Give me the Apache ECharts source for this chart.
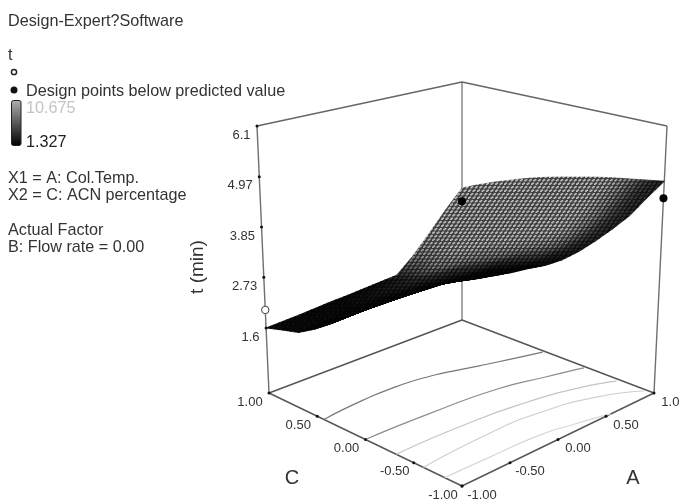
<!DOCTYPE html>
<html>
<head>
<meta charset="utf-8">
<style>
  html, body { margin: 0; padding: 0; background: #fff; }
  #main { width: 683px; height: 501px; }
</style>
<script src="https://cdn.jsdelivr.net/npm/echarts@6/dist/echarts.min.js"></script>
</head>
<body>
<div id="main"></div>
<script>
// factor levels of the surface mesh
const aLevels = [-1, -0.8333, -0.6667, -0.5, -0.3333, -0.1667, 0, 0.1667, 0.3333, 0.5, 0.6667, 0.8333, 1];
const cLevels = [1, 0.8333, 0.6667, 0.5, 0.3333, 0.1667, 0, -0.1667, -0.3333, -0.5, -0.6667, -0.8333, -1];
// t (min), one row per C level
const tRows = [
  [1.60, 1.62, 1.64, 1.67, 1.70, 1.72, 1.75, 1.78, 1.81, 2.14, 2.57, 3.02, 3.45],
  [1.71, 1.74, 1.77, 1.80, 1.84, 1.87, 1.92, 1.96, 2.01, 2.34, 2.77, 3.22, 3.65],
  [1.81, 1.84, 1.88, 1.93, 1.97, 2.01, 2.07, 2.13, 2.20, 2.53, 2.95, 3.40, 3.83],
  [2.03, 2.06, 2.09, 2.13, 2.18, 2.21, 2.27, 2.33, 2.42, 2.73, 3.13, 3.57, 3.99],
  [2.29, 2.31, 2.33, 2.37, 2.41, 2.43, 2.48, 2.55, 2.63, 2.93, 3.31, 3.74, 4.14],
  [2.58, 2.59, 2.60, 2.62, 2.65, 2.66, 2.70, 2.77, 2.85, 3.13, 3.48, 3.89, 4.27],
  [2.86, 2.85, 2.85, 2.86, 2.87, 2.87, 2.91, 2.97, 3.05, 3.30, 3.63, 4.02, 4.38],
  [3.14, 3.12, 3.10, 3.09, 3.10, 3.08, 3.11, 3.16, 3.25, 3.47, 3.77, 4.14, 4.48],
  [3.42, 3.38, 3.35, 3.33, 3.32, 3.29, 3.31, 3.36, 3.44, 3.64, 3.91, 4.26, 4.58],
  [3.66, 3.62, 3.58, 3.55, 3.53, 3.49, 3.50, 3.54, 3.63, 3.80, 4.04, 4.36, 4.66],
  [3.86, 3.81, 3.76, 3.72, 3.69, 3.65, 3.65, 3.69, 3.78, 3.95, 4.15, 4.45, 4.73],
  [4.06, 3.99, 3.94, 3.89, 3.86, 3.80, 3.80, 3.84, 3.94, 4.08, 4.26, 4.55, 4.80],
  [4.22, 4.15, 4.09, 4.03, 3.99, 3.93, 3.92, 3.97, 4.07, 4.20, 4.36, 4.62, 4.87]
];
const zTicks = ['1.6', '2.73', '3.85', '4.97', '6.1'];
const floorTicks = ['-1.00', '-0.50', '0.00', '0.50', '1.00'];
// design points as [A, C, t]
const pointsAbove = [[-1, 1, 2.0]];
const pointsBelow = [[1, 1, 3.12], [1, -1, 4.49]];
// contours on the floor as [A, C]
const contours = [
  [[-1, 0.43], [-0.56, 0.47], [-0.20, 0.47], [0.10, 0.43], [0.36, 0.35], [0.62, 0.26], [0.98, 0.14]],
  [[-1, 0], [-0.35, -0.02], [0.30, -0.08], [0.68, -0.19], [0.98, -0.29]],
  [[-1, -0.32], [-0.32, -0.33], [0.30, -0.40], [0.71, -0.51], [0.97, -0.64]],
  [[-1, -0.60], [-0.27, -0.56], [0.22, -0.59], [0.68, -0.72], [0.98, -0.92]],
  [[-1, -0.82], [-0.54, -0.83], [-0.04, -0.85], [0.24, -0.91], [0.55, -1]]
];
const contourColors = ['#777777', '#8c8c8c', '#c4c4c4', '#cfcfcf', '#d8d8d8'];
const legendText = [
  ['Design-Expert?Software', 8, 20, '#333'],
  ['t', 8, 54, '#333'],
  ['Design points below predicted value', 26, 90, '#333'],
  ['10.675', 26, 107, '#c4c4c4'],
  ['1.327', 26, 141, '#222'],
  ['X1 = A: Col.Temp.', 8, 177, '#333'],
  ['X2 = C: ACN percentage', 8, 194, '#333'],
  ['Actual Factor', 8, 229, '#333'],
  ['B: Flow rate = 0.00', 8, 246, '#333']
];

const FONT = '"Liberation Sans", Arial, sans-serif';
const zLow = 0.15, zHigh = 6.1;

// the view of the box: corners as [x, y] on the page, [left, back, front, right]
const floorCorners = [[269, 393], [462, 320], [462, 486], [654, 393]];
const topCorners = [[257, 126], [462, 82], [462, 186], [667, 126]];

function blend(c, u, v, k) {
  return (1 - u) * (1 - v) * c[0][k] + u * (1 - v) * c[1][k] + (1 - u) * v * c[2][k] + u * v * c[3][k];
}
function project(a, c, z) {
  const u = (a + 1) / 2, v = (1 - c) / 2, t = (z - zLow) / (zHigh - zLow);
  return [
    blend(floorCorners, u, v, 0) * (1 - t) + blend(topCorners, u, v, 0) * t,
    blend(floorCorners, u, v, 1) * (1 - t) + blend(topCorners, u, v, 1) * t
  ];
}

// weave texture of the mesh, from almost black to the normal grey
const levelCount = 32;
function weave(level) {
  const cv = document.createElement('canvas');
  cv.width = 9; cv.height = 7;
  const ctx = cv.getContext('2d');
  const dark = Math.round(4 + 56 * level), light = Math.round(10 + 180 * level);
  ctx.fillStyle = 'rgb(' + dark + ',' + dark + ',' + dark + ')';
  ctx.fillRect(0, 0, 9, 7);
  ctx.fillStyle = 'rgb(' + light + ',' + light + ',' + light + ')';
  for (let r = 0; r < 2; r++) {
    for (let k = -1; k < 3; k++) {
      const x = k * 4.5 + r * 2.25, y = r * 3.5 + 0.4;
      ctx.fillRect(x, y + 0.9, 1.9, 1.7);
      ctx.fillRect(x + 1.2, y, 1.9, 1.7);
    }
  }
  return { image: cv, repeat: 'repeat' };
}
const weaves = [];
for (let i = 0; i < levelCount; i++) weaves.push(weave(i / (levelCount - 1)));

function shoelace(pts) {
  let area = 0;
  for (let k = 0; k < pts.length; k++) {
    const p = pts[k], q = pts[(k + 1) % pts.length];
    area += p[0] * q[1] - q[0] * p[1];
  }
  return Math.abs(area);
}
const clamp01 = x => Math.max(0, Math.min(1, x));

const nCols = aLevels.length - 1, nRows = cLevels.length - 1;
const cellCorners = (i, j) => [[i, j], [i + 1, j], [i + 1, j + 1], [i, j + 1]];

// shade of a mesh cell: squeezed on screen, low t, far left or near the fold all go dark
function cellShade(i, j) {
  const c = cellCorners(i, j);
  const onSurface = c.map(n => project(aLevels[n[0]], cLevels[n[1]], tRows[n[1]][n[0]]));
  const onFloor = c.map(n => project(aLevels[n[0]], cLevels[n[1]], zLow));
  const squeeze = shoelace(onSurface) / shoelace(onFloor);
  const mean = c.reduce((s, n) => s + tRows[n[1]][n[0]], 0) / 4;
  return clamp01((squeeze - 0.2) / 0.5) * clamp01((mean - 1.8) / 0.6) *
    clamp01((i - 2.5) / 5.5) * clamp01((nRows - j - 0.6) / 2.6);
}
// shades at the mesh crossings, so that the grey runs on smoothly over the cells
const crossingShade = [];
for (let j = 0; j <= nRows; j++) {
  crossingShade.push([]);
  for (let i = 0; i <= nCols; i++) {
    let sum = 0, n = 0;
    for (let b = Math.max(0, j - 1); b <= Math.min(nRows - 1, j); b++) {
      for (let a = Math.max(0, i - 1); a <= Math.min(nCols - 1, i); a++) {
        sum += cellShade(a, b); n++;
      }
    }
    crossingShade[j].push(sum / n);
  }
}

const cells = [];
for (let j = 0; j < nRows; j++) {
  for (let i = 0; i < nCols; i++) cells.push([i, j]);
}
cells.sort((p, q) => (p[1] - p[0]) - (q[1] - q[0]));

const patches = 4;
function renderCell(params, api) {
  const i = api.value(0), j = api.value(1);
  const pts = cellCorners(i, j).map(n => api.coord(project(aLevels[n[0]], cLevels[n[1]], tRows[n[1]][n[0]])));
  const sh = cellCorners(i, j).map(n => crossingShade[n[1]][n[0]]);
  const at = (s, t, k) => (1 - s) * (1 - t) * pts[0][k] + s * (1 - t) * pts[1][k] + s * t * pts[2][k] + (1 - s) * t * pts[3][k];
  const children = [];
  for (let b = 0; b < patches; b++) {
    for (let a = 0; a < patches; a++) {
      const s0 = a / patches, s1 = (a + 1) / patches, t0 = b / patches, t1 = (b + 1) / patches;
      const sm = (s0 + s1) / 2, tm = (t0 + t1) / 2;
      const level = (1 - sm) * (1 - tm) * sh[0] + sm * (1 - tm) * sh[1] + sm * tm * sh[2] + (1 - sm) * tm * sh[3];
      const w = weaves[Math.round(level * (levelCount - 1))];
      children.push({
        type: 'polygon',
        shape: { points: [[s0, t0], [s1, t0], [s1, t1], [s0, t1]].map(q => [at(q[0], q[1], 0), at(q[0], q[1], 1)]) },
        style: { fill: w, stroke: w, lineWidth: 0.8 },
        silent: true
      });
    }
  }
  return { type: 'group', children: children };
}

function lineSeries(points, color, width, smooth, z) {
  return {
    type: 'line',
    data: points,
    showSymbol: false,
    smooth: smooth,
    silent: true,
    z: z,
    lineStyle: { color: color, width: width },
    animation: false
  };
}

function tickSeries(points, labels, label) {
  return {
    type: 'scatter',
    data: points.map((p, k) => ({ value: p, label: { formatter: labels[k] } })),
    symbolSize: 3,
    silent: true,
    z: 4,
    itemStyle: { color: '#111', opacity: 1 },
    label: Object.assign({
      show: true,
      fontFamily: FONT,
      fontSize: 13,
      color: '#333'
    }, label),
    animation: false
  };
}

const series = [];
// back walls and floor
const P = (a, c, z) => project(a, c, z);
series.push(lineSeries([P(-1, 1, zLow), P(-1, 1, zHigh)], '#707070', 1.4, false, 1));
series.push(lineSeries([P(1, 1, zLow), P(1, 1, zHigh)], '#808080', 1.4, false, 1));
series.push(lineSeries([P(1, -1, zLow), P(1, -1, zHigh)], '#707070', 1.4, false, 1));
series.push(lineSeries([P(-1, 1, zHigh), P(1, 1, zHigh), P(1, -1, zHigh)], '#666666', 1.4, false, 1));
series.push(lineSeries([P(-1, 1, zLow), P(1, 1, zLow), P(1, -1, zLow), P(-1, -1, zLow), P(-1, 1, zLow)], '#555555', 1.4, false, 1));
contours.forEach((c, k) => {
  series.push(lineSeries(c.map(p => P(p[0], p[1], zLow)), contourColors[k], 1.2, 0.6, 1));
});
// surface
series.push({
  type: 'custom',
  data: cells,
  renderItem: renderCell,
  encode: { x: [], y: [] },
  clip: false,
  silent: true,
  z: 2,
  animation: false
});
// design points
series.push({
  type: 'scatter',
  data: pointsBelow.map(p => P(p[0], p[1], p[2])),
  symbolSize: 8,
  silent: true,
  z: 5,
  itemStyle: { color: '#000', opacity: 1 },
  animation: false
});
series.push({
  type: 'scatter',
  data: pointsAbove.map(p => P(p[0], p[1], p[2])),
  symbolSize: 7.5,
  silent: true,
  z: 5,
  itemStyle: { color: '#fff', borderColor: '#444', borderWidth: 1, opacity: 1 },
  animation: false
});
// tick marks with their labels
const zVals = zTicks.map(Number);
const floorVals = floorTicks.map(Number);
series.push(tickSeries(zVals.map(z => P(-1, 1, z)), zTicks, { position: 'left', distance: 5, offset: [0, 9] }));
series.push(tickSeries(floorVals.map(c => P(-1, c, zLow)), floorTicks, { position: 'inside', offset: [-19, 9] }));
series.push(tickSeries(floorVals.map(a => P(a, -1, zLow)), floorTicks, { position: 'inside', offset: [20, 9] }));

const graphic = legendText.map(t => ({
  type: 'text',
  silent: true,
  style: {
    x: t[1], y: t[2] + 1.5, text: t[0], fill: t[3],
    font: '16.2px ' + FONT, textVerticalAlign: 'middle'
  }
}));
graphic.push({
  type: 'rect',
  silent: true,
  shape: { x: 11.5, y: 100.5, width: 9.5, height: 45, r: 2 },
  style: {
    fill: {
      type: 'linear', x: 0, y: 0, x2: 0, y2: 1,
      colorStops: [{ offset: 0, color: '#b0b0b0' }, { offset: 1, color: '#000' }]
    },
    stroke: '#222', lineWidth: 1
  }
});
graphic.push({
  type: 'circle', silent: true,
  shape: { cx: 14, cy: 72, r: 2.6 },
  style: { fill: '#fff', stroke: '#222', lineWidth: 1.5 }
});
graphic.push({
  type: 'circle', silent: true,
  shape: { cx: 14, cy: 90, r: 3.5 },
  style: { fill: '#111' }
});
graphic.push({
  type: 'text', silent: true,
  x: 198, y: 267, rotation: Math.PI / 2,
  style: { x: 0, y: 0, text: 't (min)', fill: '#333', font: '19px ' + FONT, textAlign: 'center', textVerticalAlign: 'middle' }
});
graphic.push({
  type: 'text', silent: true,
  style: { x: 292, y: 478, text: 'C', fill: '#333', font: '20px ' + FONT, textAlign: 'center', textVerticalAlign: 'middle' }
});
graphic.push({
  type: 'text', silent: true,
  style: { x: 633, y: 478, text: 'A', fill: '#333', font: '20px ' + FONT, textAlign: 'center', textVerticalAlign: 'middle' }
});
// the source picture cuts the last tick label at its right border
graphic.push({
  type: 'rect', silent: true, z: 100,
  shape: { x: 680, y: 390, width: 3, height: 24 },
  style: { fill: '#fff' }
});

const chart = echarts.init(document.getElementById('main'), null, { renderer: 'canvas' });
chart.setOption({
  animation: false,
  backgroundColor: '#fff',
  grid: { left: 0, right: 0, top: 0, bottom: 0 },
  xAxis: { type: 'value', min: 0, max: 683, show: false },
  yAxis: { type: 'value', min: 0, max: 501, inverse: true, show: false },
  series: series,
  graphic: graphic
});
</script>
</body>
</html>
